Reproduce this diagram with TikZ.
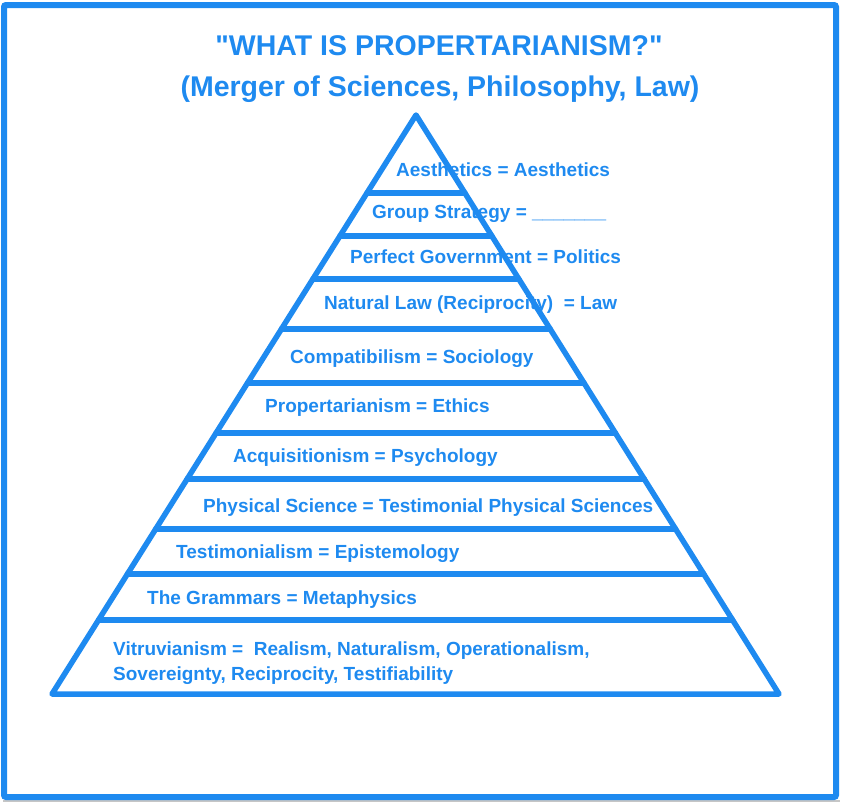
\documentclass[tikz,border=0pt]{standalone}
\usepackage{fontspec}
\setmainfont[Ligatures=TeXOff]{Liberation Sans}
\usepackage{xcolor}
\usetikzlibrary{calc}

\definecolor{pyrblue}{RGB}{30,138,240}

\tikzset{
    layer/.style={pyrblue, anchor=base west, inner sep=0pt, font=\fontsize{19}{25}\selectfont\bfseries},
    heading/.style={pyrblue, anchor=base, inner sep=0pt, font=\fontsize{28.5}{30}\selectfont\bfseries},
    edge/.style={pyrblue, line width=5.5pt, line cap=round, line join=round}
}

\begin{document}
\begin{tikzpicture}[x=1pt, y=-1pt]
    \useasboundingbox (0,0) rectangle (843,807);
    \draw[gray!45, line width=2pt] (3,801) -- (840,801);
    \draw[pyrblue, line width=6pt, rounded corners=2pt] (4,5) rectangle (836,797);

    \node (title) at (439,55) [heading] {"WHAT IS PROPERTARIANISM?"};
    \node (subtitle) at (440,96) [heading] {(Merger of Sciences, Philosophy, Law)};

    \begin{scope}
        \coordinate (apex) at (416,115);
        \coordinate (bl) at (52,694);
        \coordinate (br) at (779,694);
        \draw[edge] (apex) -- (bl) -- (br) -- cycle;
        \foreach \y in {193,236,279,329,383,433,479,529,574,620}
            \draw[edge] ($(apex)!{(\y-115)/579}!(bl)$) -- ($(apex)!{(\y-115)/579}!(br)$);
    \end{scope}

    \node (aesthetics) at (396,176) [layer] {Aesthetics = Aesthetics};
    \node (strategy) at (372,218) [layer] {Group Strategy = \_\_\_\_\_\_\_};
    \node (government) at (350,263) [layer] {Perfect Government = Politics};
    \node (natlaw) at (324,309) [layer] {Natural Law (Reciprocity)\ \ = Law};
    \node (compat) at (290,363) [layer] {Compatibilism = Sociology};
    \node (propert) at (265,412) [layer] {Propertarianism = Ethics};
    \node (acquis) at (233,462) [layer] {Acquisitionism = Psychology};
    \node (physical) at (203,512) [layer] {Physical Science = Testimonial Physical Sciences};
    \node (testimon) at (176,558) [layer] {Testimonialism = Epistemology};
    \node (grammars) at (147,604) [layer] {The Grammars = Metaphysics};
    \node (vitruv) at (113,680) [layer, align=left] {Vitruvianism =\ \ Realism, Naturalism, Operationalism,\\Sovereignty, Reciprocity, Testifiability};
\end{tikzpicture}
\end{document}
